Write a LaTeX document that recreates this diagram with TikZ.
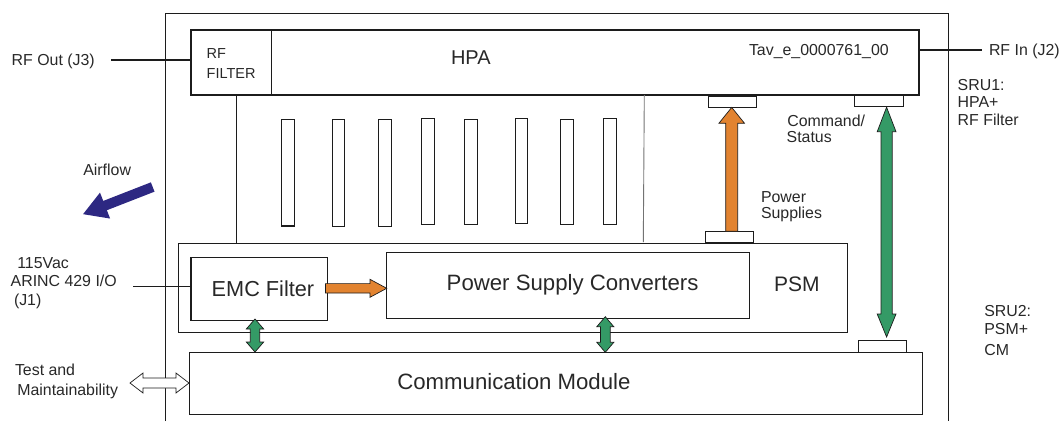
\documentclass[tikz,border=0pt]{standalone}
\usepackage{fontspec}
\setmainfont{Liberation Sans}
\usetikzlibrary{arrows.meta,calc}
\definecolor{txt}{HTML}{282828}
\definecolor{lin}{HTML}{1C1C1C}
\definecolor{orng}{RGB}{226,131,48}
\definecolor{grn}{RGB}{52,154,102}
\definecolor{navy}{RGB}{45,40,130}
\begin{document}
\begin{tikzpicture}[x=1pt,y=-1pt,
  box/.style={draw=lin, line width=1.1pt, inner sep=0pt, outer sep=0pt, anchor=north west},
  lbl/.style={anchor=base west, inner sep=0pt, outer sep=0pt, text=txt, font=\fontsize{15.9}{17}\selectfont},
  conn/.style={draw=lin, line width=1.1pt},
  blk/.style={draw=lin, line width=0.7pt, line join=miter}]
\useasboundingbox (0,0) rectangle (1063,421);
% outer frame (open at bottom)
\draw[conn] (165.7,421) -- (165.7,13.3) -- (948.3,13.3) -- (948.3,421);
% HPA + RF filter
\node[box, minimum width=80.7pt, minimum height=65pt] (rff) at (191,30) {};
\node[box, minimum width=647.3pt, minimum height=65pt] (hpa) at (271.7,30) {};
% internal lines
\draw[conn] (236.7,95) -- (236.7,243.3);
\draw[draw=gray!90!black, line width=0.9pt] (644.3,95) -- (643.3,242);
% heatsink slots
\node[box, minimum width=12.6pt, minimum height=106.7pt] (s1) at (281.7,119.3) {};
\node[box, minimum width=11.6pt, minimum height=107pt] (s2) at (332.7,119.3) {};
\node[box, minimum width=12.6pt, minimum height=107pt] (s3) at (378.7,119.3) {};
\node[box, minimum width=12.6pt, minimum height=106.4pt] (s4) at (421.7,118.3) {};
\node[box, minimum width=13pt, minimum height=105.4pt] (s5) at (464.3,119.3) {};
\node[box, minimum width=12pt, minimum height=105.4pt] (s6) at (515.7,118.3) {};
\node[box, minimum width=13pt, minimum height=105.4pt] (s7) at (560.3,119.3) {};
\node[box, minimum width=13pt, minimum height=106.4pt] (s8) at (603.3,118.3) {};
% small connector boxes
\node[box, minimum width=48pt, minimum height=11pt] (pt1) at (708.3,96.2) {};
\node[box, minimum width=49pt, minimum height=11.5pt] (pt2) at (854.3,95.2) {};
\node[box, minimum width=48pt, minimum height=11pt] (pb1) at (705.3,231.3) {};
\node[box, minimum width=48pt, minimum height=12pt] (cb) at (858.3,340.3) {};
% PSM, EMC, PSC, Comm
\node[box, minimum width=669pt, minimum height=89pt] (psm) at (178.3,243.3) {};
\node[box, minimum width=136.3pt, minimum height=63pt] (emc) at (191,257.3) {};
\node[box, minimum width=362.6pt, minimum height=66pt] (psc) at (386.7,252.3) {};
\node[box, minimum width=733pt, minimum height=62pt] (com) at (189.3,352.3) {};
% external connectors
\coordinate (rfo) at (111,60);
\draw[conn] (rfo) -- (rfo -| rff.west);
\coordinate (rfi) at (982,50);
\draw[conn] (rfi -| hpa.east) -- (rfi);
\coordinate (arc) at (133,286);
\draw[conn, line width=0.8pt] (arc) -- (arc -| emc.west);
% block arrows
\draw[blk, fill=orng] (725.7,231.3) -- (737.7,231.3) -- (737.7,123.3) -- (744.5,123.3) -- (731.7,107.4) -- (718.9,123.3) -- (725.7,123.3) -- cycle;
\draw[blk, fill=grn] (886.6,107.2) -- (896,131.7) -- (892.2,131.7) -- (892.2,314) -- (896,314) -- (886.6,337) -- (877.2,314) -- (881,314) -- (881,131.7) -- (877.2,131.7) -- cycle;
\draw[blk, fill=orng] (325.5,283.6) -- (370,283.6) -- (370,279.3) -- (386.7,288.3) -- (370,297.3) -- (370,293) -- (325.5,293) -- cycle;
\draw[blk, fill=grn] (255,319) -- (263.7,329) -- (259.7,329) -- (259.7,342) -- (263.7,342) -- (255,352) -- (246.3,342) -- (250.3,342) -- (250.3,329) -- (246.3,329) -- cycle;
\draw[blk, fill=grn] (605.3,316.7) -- (613.8,326.7) -- (610.2,326.7) -- (610.2,342.3) -- (613.8,342.3) -- (605.3,352.3) -- (596.8,342.3) -- (600.4,342.3) -- (600.4,326.7) -- (596.8,326.7) -- cycle;
\draw[blk, fill=white, line width=0.7pt] (130,383) -- (143,373) -- (143,378) -- (176,378) -- (176,373) -- (189,383) -- (176,393) -- (176,388) -- (143,388) -- (143,393) -- cycle;
% airflow
\draw[navy, line width=10pt, -{Triangle[length=24pt,width=26pt]}] (152.7,187) -- (82.7,214.3);
% labels
\node[lbl] (trfo) at (11.7,65) {RF Out (J3)};
\node[lbl] (trfi) at (989,55) {RF In (J2)};
\node[lbl] (ttav) at (749,55) {Tav\_e\_0000761\_00};
\node[lbl, font=\fontsize{20}{22}\selectfont] (thpa) at (451,64.3) {HPA};
\node[lbl, font=\fontsize{14.5}{17}\selectfont] (trf1) at (206.7,58.6) {RF};
\node[lbl, font=\fontsize{14.5}{17}\selectfont] (trf2) at (206.7,78.3) {FILTER};
\node[lbl] (tsa1) at (957.7,90.7) {SRU1:};
\node[lbl] (tsa2) at (957.7,107.3) {HPA+};
\node[lbl] (tsa3) at (957.7,125) {RF Filter};
\node[lbl] (tsb1) at (984.3,316.7) {SRU2:};
\node[lbl] (tsb2) at (984.3,334.3) {PSM+};
\node[lbl] (tsb3) at (984.3,355) {CM};
\node[lbl] (tcs1) at (787.3,126.7) {Command/};
\node[lbl] (tcs2) at (786.7,142.7) {Status};
\node[lbl] (tps1) at (761,202.3) {Power};
\node[lbl] (tps2) at (761,218.7) {Supplies};
\node[lbl] (tair) at (83.3,175) {Airflow};
\node[lbl] (tac1) at (17.3,268.3) {115Vac};
\node[lbl] (tac2) at (10.7,286.7) {ARINC 429 I/O};
\node[lbl] (tac3) at (14,305) {(J1)};
\node[lbl] (ttm1) at (15,375.7) {Test and};
\node[lbl] (ttm2) at (17.3,395) {Maintainability};
\node[lbl, font=\fontsize{21.7}{24}\selectfont] (temc) at (211.7,296) {EMC Filter};
\node[lbl, font=\fontsize{22.2}{24}\selectfont] (tpsc) at (446.7,290.7) {Power Supply Converters};
\node[lbl, font=\fontsize{21}{24}\selectfont] (tpsm) at (774,291) {PSM};
\node[lbl, font=\fontsize{22.2}{24}\selectfont] (tcom) at (397.3,389.3) {Communication Module};
\end{tikzpicture}
\end{document}
